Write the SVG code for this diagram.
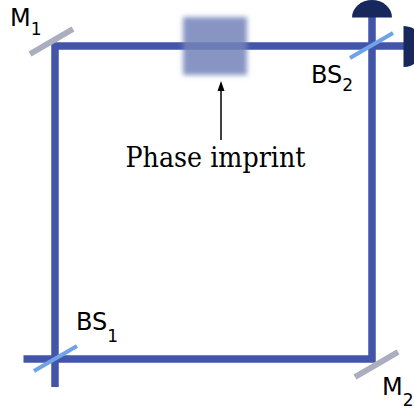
<svg xmlns="http://www.w3.org/2000/svg" width="414" height="412" viewBox="0 0 414 412">
<style>
.beam{fill:none;stroke:#4355ab;stroke-width:7.500}
.mirror{stroke:#aaaebf;stroke-width:6;fill:none}
.bs{stroke:#6fa3e8;stroke-width:4;fill:none}
.det{fill:#16285c}
.lab{font-family:"DejaVu Sans",sans-serif;font-size:24px;fill:#000}
.sub{font-size:17px}
</style>
<defs>
<filter id="blur" x="-20%" y="-20%" width="140%" height="140%"><feGaussianBlur stdDeviation="2.500"/></filter>
</defs>
<g id="connectors">
<path class="beam" d="M23.500 359H372V10M405 46H55V387"/>
<path d="M221 140V88" stroke="#000" stroke-width="1.500" fill="none"/>
<path d="M221 81L224.500 91H217.500Z" fill="#000"/>
</g>
<g id="phase-imprint"><rect x="183" y="17" width="64" height="58" fill="#7382b8" fill-opacity=".85" filter="url(#blur)"/>
<text x="125.500" y="167" font-family="'DejaVu Serif',serif" font-size="27px" textLength="180" lengthAdjust="spacingAndGlyphs">Phase imprint</text></g>
<g id="M1"><path class="mirror" d="M30 54L73 29"/><text class="lab" x="10" y="26">M<tspan class="sub" dy="9">1</tspan></text></g>
<g id="BS1"><path class="bs" d="M34 371L77 346"/><text class="lab" x="76" y="330">BS<tspan class="sub" dy="12">1</tspan></text></g>
<g id="M2"><path class="mirror" d="M355 377L398 352"/><text class="lab" x="382" y="395">M<tspan class="sub" dy="11">2</tspan></text></g>
<g id="BS2"><path class="bs" d="M350 58L393 33"/><text class="lab" x="311" y="83">BS<tspan class="sub" dy="8">2</tspan></text></g>
<g id="detector-top"><path class="det" d="M352 17.500A20 17.500 0 0 1 392 17.500Z"/></g>
<g id="detector-right"><path class="det" d="M403.500 26A20 20 0 0 1 403.500 67Z"/></g>
</svg>
